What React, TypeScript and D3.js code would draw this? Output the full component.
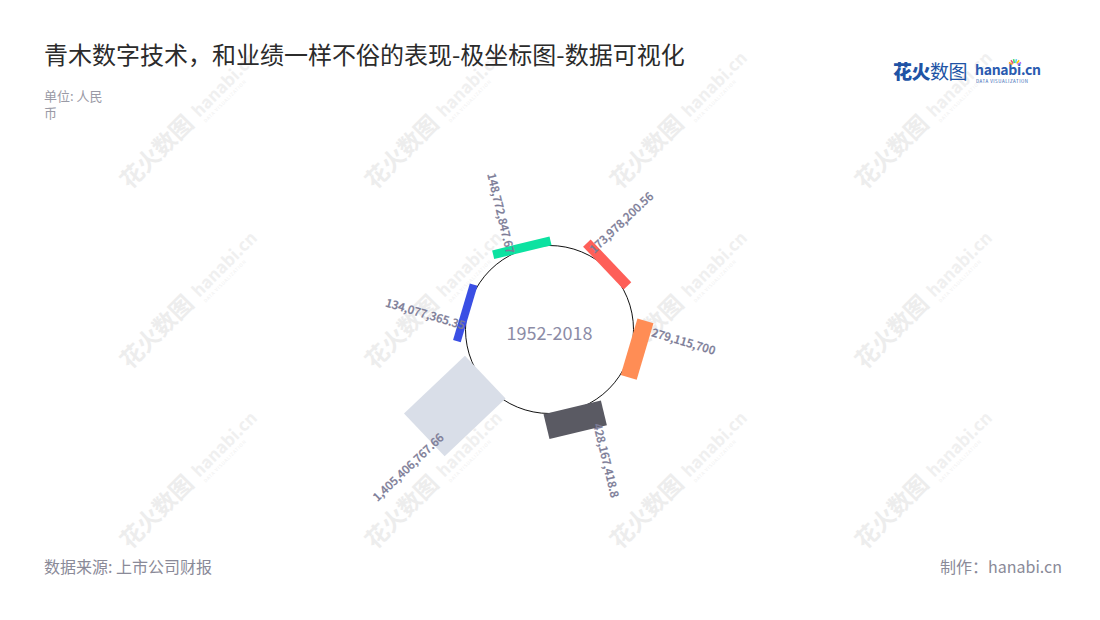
import React from "react";
import * as d3 from "d3";

// ---- data ----
const categories = ["c1", "c2", "c3", "c4", "c5", "c6"];
const values = [148772847.67, 173978200.56, 279115700, 428167418.8, 1405406767.66, 134077365.35];
const colors = ["#0ce2a1", "#fe5f58", "#ff8d55", "#5a5a63", "#d9dee8", "#3a4fe4"];
const centerLabel = "1952-2018";
const title = "青木数字技术，和业绩一样不俗的表现-极坐标图-数据可视化";
const unitLines = ["单位: 人民", "币"];
const sourceText = "数据来源: 上市公司财报";
const creditText = "制作：hanabi.cn";

const WIDTH = 1100;
const HEIGHT = 620;
const CX = 549.5;
const CY = 329.5;
const R = 84;
const BAR_W = 59;
const TILT = 13.5;
const FONT = "'Noto Sans CJK SC', 'Noto Sans', sans-serif";

const angle = d3.scaleBand<string>().domain(categories).range([0, 360]).paddingInner(0);
const len = d3.scaleLinear().domain([0, d3.max(values) as number]).range([0, 84]);
const fmt = d3.format(",");

const dir = (deg: number): [number, number] => {
  const r = (deg * Math.PI) / 180;
  return [Math.sin(r), -Math.cos(r)];
};

function Watermark({ x, y }: { x: number; y: number }) {
  return (
    <g transform={`translate(${x},${y}) rotate(-45)`} fill="#ededed" fontFamily={FONT}>
      <text x={0} y={0} fontSize={23} fontWeight={700}>花火数图</text>
      <text x={100} y={-2} fontSize={17} fontWeight={700} fill="#f0f0f0">hanabi.cn</text>
      <text x={101} y={6} fontSize={4.5} letterSpacing={0.8} fill="#f0f0f0">DATA VISUALIZATION</text>
    </g>
  );
}

export default function App() {
  const bars = categories.map((c, i) => {
    const th = angle(c) as number;
    const T = len(values[i]);
    const rh = dir(th);
    const n = dir(th - TILT);
    const u = dir(th - TILT - 90);
    const Q: [number, number] = [CX + (R + T) * rh[0], CY + (R + T) * rh[1]];
    const pts: [number, number][] = [
      Q,
      [Q[0] - T * n[0], Q[1] - T * n[1]],
      [Q[0] - T * n[0] + BAR_W * u[0], Q[1] - T * n[1] + BAR_W * u[1]],
      [Q[0] + BAR_W * u[0], Q[1] + BAR_W * u[1]],
    ];
    const lx = Q[0] + 46 * u[0] + 34 * n[0];
    const ly = Q[1] + 46 * u[1] + 34 * n[1];
    let rot = (Math.atan2(n[1], n[0]) * 180) / Math.PI;
    if (n[0] < 0) rot += 180;
    return { c, pts, color: colors[i], lx, ly, rot, label: fmt(values[i]) };
  });

  const line = d3.line();
  const wm: { x: number; y: number }[] = [];
  for (let j = 0; j <= 2; j++) {
    for (let k = 0; k <= 3; k++) {
      wm.push({ x: 130 + 245 * k, y: 190 + 180 * j });
    }
  }

  return (
    <svg
      width={WIDTH}
      height={HEIGHT}
      style={{ position: "absolute", left: 0, top: 0, display: "block", background: "#fff" }}
    >
      <rect width={WIDTH} height={HEIGHT} fill="#fff" />
      {wm.map((w, i) => (
        <Watermark key={i} x={w.x} y={w.y} />
      ))}

      <text x={44} y={64} fontFamily={FONT} fontSize={24} fill="#2b2b2b">{title}</text>
      {unitLines.map((t, i) => (
        <text key={i} x={44} y={101 + i * 17} fontFamily={FONT} fontSize={13} fill="#9a9aa6">{t}</text>
      ))}

      {/* logo */}
      <g fontFamily={FONT}>
        <text x={893} y={79} fontSize={19} fill="#2053a5" letterSpacing={-0.5}>
          <tspan fontWeight={900}>花火</tspan>
          <tspan fontWeight={400}>数图</tspan>
        </text>
        <text x={975} y={75} fontSize={14} fontWeight={700} fill="#2a5bb0" letterSpacing={-0.3}>hanabi.cn</text>
        <text x={976} y={82.5} fontSize={4.4} fill="#2a5bb0" letterSpacing={0.55}>DATA VISUALIZATION</text>
        {["#f5a623", "#e94e77", "#4cd964", "#5ac8fa", "#ffcc00", "#a66bff"].map((c, i) => {
          const a = -150 + i * 24;
          const d = dir(a + 90);
          return (
            <line key={i} x1={1015 + d[0] * 3} y1={66 + d[1] * 3} x2={1015 + d[0] * 7} y2={66 + d[1] * 7} stroke={c} strokeWidth={1.6} />
          );
        })}
      </g>

      <circle cx={CX} cy={CY} r={R} fill="#fff" stroke="#111" strokeWidth={1} />

      {bars.map((b) => (
        <path key={b.c} d={(line(b.pts) as string) + "Z"} fill={b.color} />
      ))}
      {bars.map((b) => (
        <text
          key={"l" + b.c}
          transform={`translate(${b.lx},${b.ly}) rotate(${b.rot})`}
          textAnchor="middle"
          fontFamily={FONT}
          fontSize={11.5}
          fontWeight={500}
          fill="#7c7c97"
          stroke="#7c7c97"
          strokeWidth={0.25}
        >
          {b.label}
        </text>
      ))}

      <text x={CX} y={339.5} textAnchor="middle" fontFamily={FONT} fontSize={18} fill="#8c8ca6">{centerLabel}</text>

      <text x={44} y={573} fontFamily={FONT} fontSize={16} fill="#8a8a98">{sourceText}</text>
      <text x={1062} y={573} textAnchor="end" fontFamily={FONT} fontSize={16} fill="#8a8a98">{creditText}</text>
    </svg>
  );
}
